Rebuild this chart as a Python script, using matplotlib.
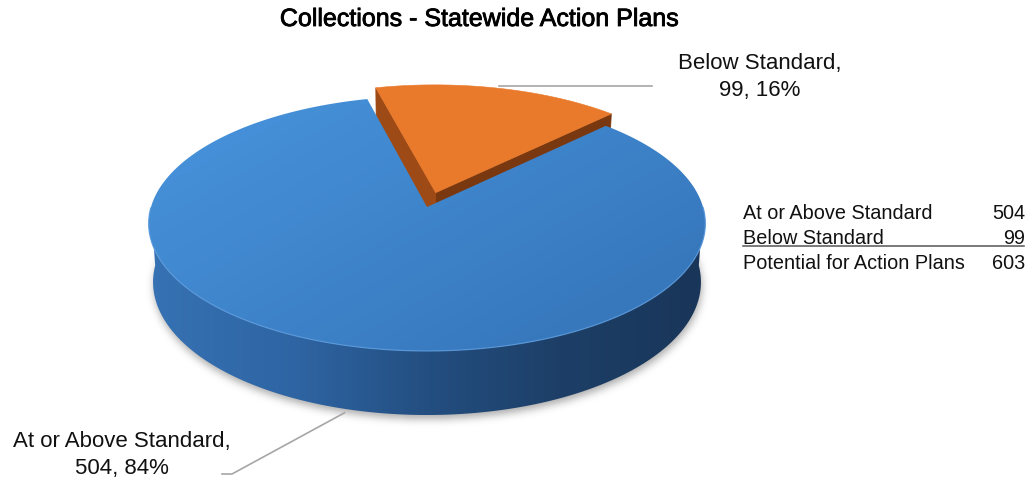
import numpy as np
import matplotlib.pyplot as plt
from matplotlib.patches import Polygon
from matplotlib.path import Path
import matplotlib.patheffects as pe

plt.rcParams['font.family'] = ['Liberation Sans', 'DejaVu Sans']

# chart data
title = "Collections - Statewide Action Plans"
labels = ["At or Above Standard", "Below Standard"]
counts = [504, 99]
table_rows = ["At or Above Standard", "Below Standard", "Potential for Action Plans"]

total = sum(counts)
table_vals = counts + [total]
pcts = [round(100 * c / total) for c in counts]

# canvas in pixel units
W, H = 1033, 482

# 3d pie view
cx, cy = 427, 207
R = 276
elev = np.radians(27.0)
dist = 6.87
thick = 0.24
first_angle = 45          # clockwise from 12 o'clock, like excel
explode = [0.0, 0.12]

top_c0 = np.array([72, 149, 222]) / 255
top_c1 = np.array([52, 114, 182]) / 255
side_x = [150, 300, 430, 560, 710]
side_cols = np.array([[54, 114, 180], [46, 100, 162], [35, 78, 128],
                      [29, 63, 103], [25, 53, 88]]) / 255
orange_top = "#E97A2B"
orange_faces = ["#7A3810", "#9E4A16"]
leader_col = "#a6a6a6"


def proj(x, y, z):
    v = y * np.sin(elev) + z * np.cos(elev)
    w = y * np.cos(elev) - z * np.sin(elev)
    s = dist / (dist + w)
    return cx + R * x * s, cy - R * v * s


def rim(t, z, off):
    return proj(np.cos(t) + off[0], np.sin(t) + off[1], z + 0 * t)


fig = plt.figure(figsize=(W / 100, H / 100), dpi=100)
ax = fig.add_axes([0, 0, 1, 1])
ax.set_xlim(0, W)
ax.set_ylim(H, 0)
ax.axis('off')

# slice bounds, going clockwise from the first angle
start = np.radians(90 - first_angle)
bounds = start - 2 * np.pi * np.cumsum([0] + counts) / total
slices = []
for i in range(len(counts)):
    lo, hi = bounds[i + 1], bounds[i]
    mid = 0.5 * (lo + hi)
    off = (explode[i] * np.cos(mid), explode[i] * np.sin(mid))
    slices.append((lo, hi, mid, off))

cam = np.array([0.0, -dist * np.cos(elev), dist * np.sin(elev)])

xs = np.arange(W) + 0.5
ys = np.arange(H) + 0.5
XX, YY = np.meshgrid(xs, ys)
pts = np.column_stack([XX.ravel(), YY.ravel()])

# soft shadow under the disc
t_all = np.linspace(0, 2 * np.pi, 400)
bx, by = rim(t_all, -thick, (0, 0))
mask = Path(np.column_stack([bx + 1, by + 4])).contains_points(pts).reshape(H, W).astype(float)


def blur(a, r):
    k = np.exp(-0.5 * (np.arange(-3 * r, 3 * r + 1) / r) ** 2)
    k /= k.sum()
    for axis in (0, 1):
        out = np.zeros_like(a)
        for j, kv in zip(range(-3 * r, 3 * r + 1), k):
            out += kv * np.roll(a, j, axis=axis)
        a = out
    return a


sh = blur(mask, 4)
shadow = np.zeros((H, W, 4))
shadow[..., :3] = 0.35
shadow[..., 3] = sh * 0.5
ax.imshow(shadow, extent=(0, W, H, 0), zorder=1, interpolation='bilinear')

# cut faces of exploded slices (drawn first, blue top hides the lower part)
for i, (lo, hi, mid, off) in enumerate(slices):
    if explode[i] == 0:
        continue
    for k, (t, sgn) in enumerate([(lo, 1), (hi, -1)]):
        normal = np.array([sgn * np.sin(t), -sgn * np.cos(t), 0])
        midpt = np.array([0.5 * np.cos(t) + off[0], 0.5 * np.sin(t) + off[1], -thick / 2])
        if normal @ (cam - midpt) <= 0:
            continue
        c0 = proj(off[0], off[1], 0)
        c1 = proj(off[0], off[1], -thick)
        r0 = rim(np.array([t]), 0, off)
        r1 = rim(np.array([t]), -thick, off)
        poly = [c0, (r0[0][0], r0[1][0]), (r1[0][0], r1[1][0]), c1]
        ax.add_patch(Polygon(poly, closed=True, fc=orange_faces[k], ec=orange_faces[k],
                             lw=0.5, zorder=2))

# outer wall of the main slice
for i, (lo, hi, mid, off) in enumerate(slices):
    ts = np.linspace(lo, hi, 800)
    vis = np.sin(ts) < 0
    if not vis.any():
        continue
    tv = ts[vis]
    tx, ty = rim(tv, 0, off)
    bx2, by2 = rim(tv[::-1], -thick, off)
    band = Polygon(np.column_stack([np.r_[tx, bx2], np.r_[ty, by2]]), closed=True,
                   fc='none', ec='none', zorder=3)
    ax.add_patch(band)
    side = np.zeros((H, W, 3))
    for ch in range(3):
        side[..., ch] = np.interp(XX, side_x, side_cols[:, ch])
    im = ax.imshow(side, extent=(0, W, H, 0), zorder=3)
    im.set_clip_path(band)

# top faces
for i, (lo, hi, mid, off) in enumerate(slices):
    ts = np.linspace(lo, hi, 600)
    tx, ty = rim(ts, 0, off)
    c = proj(off[0], off[1], 0)
    poly = np.column_stack([np.r_[c[0], tx], np.r_[c[1], ty]])
    if explode[i] == 0:
        face = Polygon(poly, closed=True, fc='none', ec='none', zorder=4)
        ax.add_patch(face)
        g = np.clip(0.55 * (XX - 150) / 560 + 0.45 * (YY - 95) / 255, 0, 1)[..., None]
        top = top_c0 * (1 - g) + top_c1 * g
        im = ax.imshow(top, extent=(0, W, H, 0), zorder=4)
        im.set_clip_path(face)
        # light bevel along the front rim
        tv = ts[np.sin(ts) < 0]
        hx, hy = rim(tv, 0, off)
        ax.plot(hx, hy, color="#5d9de0", lw=0.9, alpha=0.8, zorder=4.5)
    else:
        ax.add_patch(Polygon(poly, closed=True, fc=orange_top, ec=orange_top,
                             lw=0.4, zorder=5))

# data labels with leader lines
lab_pos = [(122, 455), (760, 77)]
for i, (lo, hi, mid, off) in enumerate(slices):
    txt = f"{labels[i]},\n{counts[i]}, {pcts[i]}%"
    ax.text(lab_pos[i][0], lab_pos[i][1], txt, ha='center', va='center',
            fontsize=16, linespacing=1.35, color='#111111', zorder=7)
    if explode[i] == 0:
        px, py = rim(np.array([mid]), -thick, off)
        ax.plot([px[0], 232, 222], [py[0] + 4, 474, 474], color=leader_col, lw=1.2, zorder=6)
    else:
        px, py = rim(np.array([mid]), 0, off)
        ax.plot([px[0], 652], [py[0] - 2, py[0] - 2], color=leader_col, lw=1.2, zorder=6)

# summary table on the right
row_y = [219, 244, 269]
for name, val, yb in zip(table_rows, table_vals, row_y):
    ax.text(743, yb, name, ha='left', va='baseline', fontsize=14.3, color='#111111')
    ax.text(1025, yb, f"{val}", ha='right', va='baseline', fontsize=14.3, color='#111111')
ax.plot([743, 1024], [row_y[1] + 1.5] * 2, color='#555555', lw=1.1)

ax.text(479, 19, title, ha='center', va='center', fontsize=18, color='black',
        path_effects=[pe.withStroke(linewidth=0.6, foreground='black')])

fig.savefig("out.png", dpi=100)
